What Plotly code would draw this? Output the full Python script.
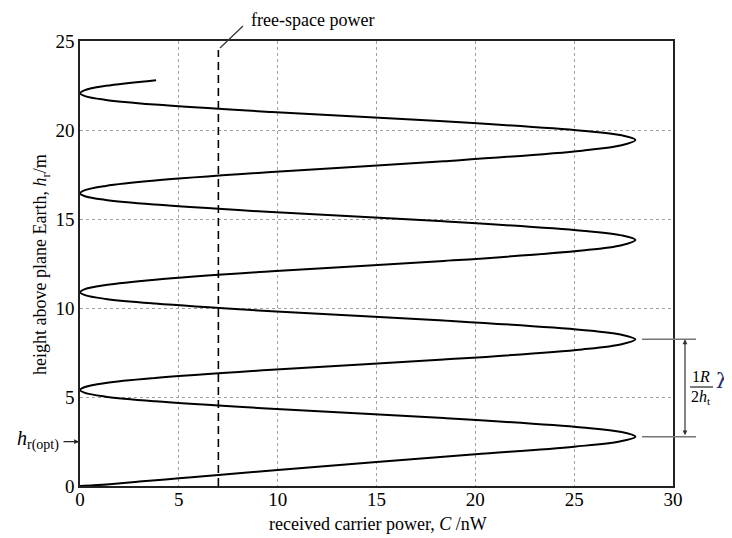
import plotly.graph_objects as go

# ---- data ----
# received carrier power C (nW) versus receiver height h_r (m)
H_M = [0, 0.04, 0.10, 0.25, 0.43, 0.62, 0.90, 1.35, 1.78, 2.21, 2.50, 2.77,
       3.03, 3.29, 3.82, 4.34, 4.76, 5.02, 5.23, 5.39,
       5.56, 5.79, 6.07, 6.53, 7.10, 7.67, 7.96, 8.24,
       8.50, 8.77, 9.30, 9.82, 10.25, 10.51, 10.72, 10.88,
       11.06, 11.29, 11.59, 12.06, 12.64, 13.23, 13.53, 13.82,
       14.08, 14.34, 14.87, 15.39, 15.81, 16.07, 16.28, 16.44,
       16.62, 16.86, 17.16, 17.64, 18.24, 18.84, 19.14, 19.44,
       19.70, 19.96, 20.49, 21.01, 21.43, 21.69, 21.90, 22.06,
       22.24, 22.48, 22.80]
C_NW = [0, 0.7, 1.5, 3.0, 5.0, 7.0, 10.0, 15.0, 20.0, 25.0, 27.3, 28.1,
        27.4, 25.4, 18.4, 9.7, 3.8, 1.3, 0.25, 0,
        0.25, 1.3, 3.8, 9.7, 18.4, 25.4, 27.4, 28.1,
        27.4, 25.4, 18.4, 9.7, 3.8, 1.3, 0.25, 0,
        0.25, 1.3, 3.8, 9.7, 18.4, 25.4, 27.4, 28.1,
        27.4, 25.4, 18.4, 9.7, 3.8, 1.3, 0.25, 0,
        0.25, 1.3, 3.8, 9.7, 18.4, 25.4, 27.4, 28.1,
        27.4, 25.4, 18.4, 9.7, 3.8, 1.3, 0.25, 0,
        0.25, 1.3, 3.85]
FREE_SPACE_NW = 7.0
FREE_SPACE_TOP = 24.5
X_TICKS = [0, 5, 10, 15, 20, 25, 30]
Y_TICKS = [0, 5, 10, 15, 20, 25]
H_OPT_MARK = 2.49
PEAK_LOW = 2.77
PEAK_HIGH = 8.24

SERIF = "Liberation Serif, Times New Roman, serif"

fig = go.Figure()
fig.add_trace(go.Scatter(x=C_NW, y=H_M, mode="lines",
                         line=dict(color="black", width=2, shape="spline"),
                         showlegend=False, hoverinfo="skip"))
fig.add_trace(go.Scatter(x=[FREE_SPACE_NW, FREE_SPACE_NW], y=[0, FREE_SPACE_TOP],
                         mode="lines",
                         line=dict(color="black", width=1.6, dash="8px,5px"),
                         showlegend=False, hoverinfo="skip"))

# page is 732x538, the html body adds an 8px offset
OFF = 8
W, H = 732 - OFF, 538 - OFF
PL, PR, PT, PB = 80, 673, 41, 486          # plot box in page pixels
L, T = PL - OFF, PT - OFF
R = W - (PR - OFF)
B = H - (PB - OFF)
pw, ph = PR - PL, PB - PT


def px(xp):
    return (xp - PL) / pw


def py(yp):
    return (PB - yp) / ph


fig.update_layout(
    width=W, height=H,
    margin=dict(l=L, r=R, t=T, b=B),
    plot_bgcolor="white", paper_bgcolor="white",
    font=dict(family=SERIF, size=19, color="black"),
    xaxis=dict(range=[0, 30], tickvals=X_TICKS, showgrid=True,
               gridcolor="#a0a0a0", griddash="dot", gridwidth=1,
               showline=True, linecolor="#222", linewidth=1.6, mirror=True,
               ticks="", zeroline=False, tickfont=dict(size=19)),
    yaxis=dict(range=[0, 25], tickvals=Y_TICKS, showgrid=True,
               gridcolor="#a0a0a0", griddash="dot", gridwidth=1,
               showline=True, linecolor="#222", linewidth=1.6, mirror=True,
               ticks="", zeroline=False, tickfont=dict(size=19)),
)
try:
    fig.update_xaxes(ticklabelstandoff=-5)
except Exception:
    pass

# leader line for free-space label
fig.add_shape(type="line", xref="paper", yref="paper",
              x0=px(220), y0=py(48), x1=px(243), y1=py(26),
              line=dict(color="#333", width=1.2))

fig.add_annotation(xref="paper", yref="paper", x=px(249), y=py(OFF),
                   xanchor="left", yanchor="top", showarrow=False,
                   text="free-space power", font=dict(size=18))

# axis titles
fig.add_annotation(xref="paper", yref="paper", x=px(378), y=py(524),
                   xanchor="center", yanchor="middle", showarrow=False,
                   text="received carrier power, <i>C</i> /nW", font=dict(size=18))
fig.add_annotation(xref="paper", yref="paper", x=px(41), y=py(265),
                   xanchor="center", yanchor="middle", showarrow=False, textangle=-90,
                   text="height above plane Earth, <i>h</i><sub>r</sub>/m", font=dict(size=18))

# h_r(opt) marker
fig.add_annotation(xref="paper", yref="paper", x=px(61), y=py(440),
                   xanchor="right", yanchor="middle", showarrow=False,
                   text="<i>h</i><sub>r(opt)</sub>", font=dict(size=20))
fig.add_annotation(xref="paper", yref="y", x=px(79), y=H_OPT_MARK,
                   ax=-17, ay=0, text="", showarrow=True,
                   arrowhead=2, arrowsize=0.8, arrowwidth=1.2, arrowcolor="#222")

# right-hand spacing marker
for yv in (PEAK_HIGH, PEAK_LOW):
    fig.add_shape(type="line", xref="paper", yref="y",
                  x0=px(642), x1=px(696), y0=yv, y1=yv,
                  line=dict(color="#777", width=1.5))
fig.add_annotation(xref="paper", yref="y", x=px(685), y=PEAK_HIGH,
                   axref="pixel", ayref="pixel", ax=0,
                   ay=(PEAK_HIGH - PEAK_LOW) * ph / 25,
                   text="", showarrow=True, arrowside="end+start",
                   arrowhead=2, arrowsize=0.8, arrowwidth=1.2, arrowcolor="#333")
fig.add_annotation(xref="paper", yref="paper", x=px(701), y=py(377),
                   xanchor="center", yanchor="middle", showarrow=False,
                   text="1<i>R</i>", font=dict(size=16))
fig.add_shape(type="line", xref="paper", yref="paper",
              x0=px(690), x1=px(713), y0=py(387), y1=py(387),
              line=dict(color="#222", width=1.2))
fig.add_annotation(xref="paper", yref="paper", x=px(701), y=py(397),
                   xanchor="center", yanchor="middle", showarrow=False,
                   text="2<i>h</i><sub>t</sub>", font=dict(size=16))
fig.add_annotation(xref="paper", yref="paper", x=px(722), y=py(381),
                   xanchor="center", yanchor="middle", showarrow=False,
                   text="λ", font=dict(size=21, family="DejaVu Serif", color="#1f2f70"))

fig.write_html("out.html")
